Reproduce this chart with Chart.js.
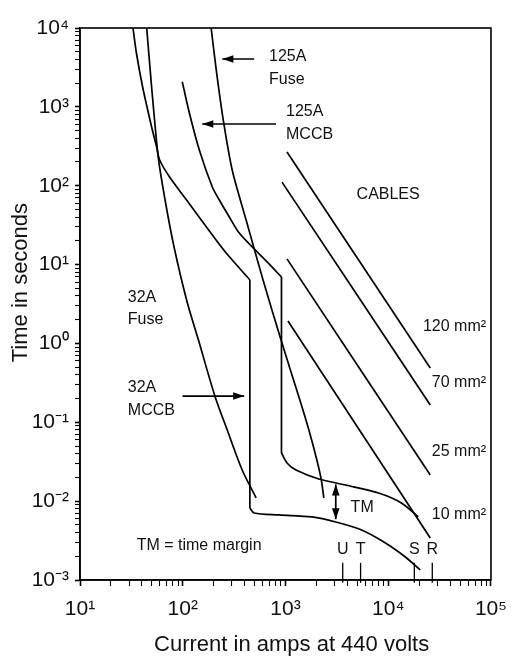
<!DOCTYPE html>
<html>
<head>
<meta charset="utf-8">
<script src="https://cdn.jsdelivr.net/npm/chart.js@4.4.1/dist/chart.umd.min.js"></script>
<style>
  html, body { margin: 0; padding: 0; background: #ffffff; }
  #wrap { width: 518px; height: 661px; position: relative; }
</style>
</head>
<body>
<div id="wrap"><canvas id="c" width="518" height="661"></canvas></div>
<script>
// ---------- data (current in A, time in s) ----------
const fuse32I  = [44.6, 48.2, 52.1, 58.2, 68.1, 82.3, 109, 142, 207, 271, 379, 518];
const fuse32T  = [10000, 2931, 912, 212, 60.4, 16.7, 3.56, 1.11, 0.209, 0.0798, 0.0248, 0.011];

const mccb32I  = [32.8, 35.4, 40.7, 49.8, 55.7, 59.6, 74.5, 109, 170, 265, 450, 450, 495, 865, 1807, 3086, 5508, 9400, 14680, 20520];
const mccb32T  = [10000, 4820, 1786, 556, 310, 212, 129, 65.9, 30.0, 14.0, 6.4, 0.0082, 0.00708, 0.00668, 0.0063, 0.00544, 0.00431, 0.00295, 0.00196, 0.00134];

const fuse125I = [189, 212, 248, 303, 414, 605, 904, 1380, 1690, 2020, 2233, 2361];
const fuse125T = [10000, 2931, 681, 158, 36.7, 6.37, 1.11, 0.192, 0.0798, 0.0332, 0.0185, 0.011];

const mccb125I = [98.9, 116, 145, 194, 227, 284, 355, 496, 662, 914, 914, 1035, 1265, 2111, 3851, 8054, 13440, 19630];
const mccb125T = [2084, 836, 284, 96.3, 65.9, 40.1, 25.1, 15.8, 10.8, 6.96, 0.0408, 0.0305, 0.0248, 0.0191, 0.016, 0.01268, 0.00948, 0.0063];

// cable adiabatic lines (start / end)
const cableNames = ['120 mm\u00B2', '70 mm\u00B2', '25 mm\u00B2', '10 mm\u00B2'];
const cableI = [[1034, 25650], [925, 25650], [1034, 25650], [1057, 25650]];
const cableT = [[268, 0.489], [111, 0.166], [11.8, 0.0215], [1.93, 0.00341]];

// prospective fault currents marked on the current axis
const markerNames = ['U', 'T', 'S', 'R'];
const markerI = [3606, 5383, 17950, 26840];

// axis tick labels (powers of ten)
const xTickLabels = ['10\u00B9', '10\u00B2', '10\u00B3', '10\u2074', '10\u2075'];
const yTickLabels = ['10\u207B\u00B3', '10\u207B\u00B2', '10\u207B\u00B9', '10\u2070', '10\u00B9', '10\u00B2', '10\u00B3', '10\u2074'];

// ---------- annotations (anchored in data units) ----------
const textNotes = [
  { text: '125A', i: 692, t: 4285 }, { text: 'Fuse', i: 692, t: 2191 },
  { text: '125A', i: 1012, t: 861 }, { text: 'MCCB', i: 1012, t: 440 },
  { text: 'CABLES', i: 4920, t: 76.3 },
  { text: '32A', i: 29.2, t: 3.77 }, { text: 'Fuse', i: 29.2, t: 1.98 },
  { text: '32A', i: 29.2, t: 0.272 }, { text: 'MCCB', i: 29.2, t: 0.139 },
  { text: cableNames[0], i: 89600, t: 1.62, align: 'right' },
  { text: cableNames[1], i: 89600, t: 0.315, align: 'right' },
  { text: cableNames[2], i: 89600, t: 0.042, align: 'right' },
  { text: cableNames[3], i: 89600, t: 0.00668, align: 'right' },
  { text: 'TM', i: 4305, t: 0.00819 },
  { text: 'TM = time margin', i: 35.6, t: 0.0027 }
];
const arrowNotes = [
  { from: [496, 4046], to: [243, 4046], heads: 1 },
  { from: [809, 606], to: [155, 606], heads: 1 },
  { from: [99.5, 0.215], to: [396, 0.215], heads: 1 },
  { from: [3086, 0.0163], to: [3086, 0.0059], heads: 2 }
];
const markerLabelT = 0.0024;

// ---------- build datasets ----------
const lineStyle = { borderColor: '#000', borderWidth: 1.7, pointRadius: 0, showLine: true, fill: false, tension: 0.3 };
function pts(I, T) { return I.map((v, k) => ({ x: v, y: T[k] })); }
// split a curve where it runs vertically (same current), so each smooth piece is curved on its own
function pieces(label, I, T) {
  const out = [];
  let start = 0;
  for (let k = 0; k < I.length - 1; k++) {
    if (I[k] === I[k + 1]) {
      if (k > start) out.push(pts(I.slice(start, k + 1), T.slice(start, k + 1)));
      out.push(pts(I.slice(k, k + 2), T.slice(k, k + 2)));
      start = k + 1;
    }
  }
  out.push(pts(I.slice(start), T.slice(start)));
  return out.map(d => Object.assign({ label, data: d }, lineStyle));
}
const datasets = [].concat(
  pieces('32A Fuse', fuse32I, fuse32T),
  pieces('32A MCCB', mccb32I, mccb32T),
  pieces('125A Fuse', fuse125I, fuse125T),
  pieces('125A MCCB', mccb125I, mccb125T)
);
cableNames.forEach((n, k) => {
  datasets.push(Object.assign({ label: n, data: pts(cableI[k], cableT[k]) }, lineStyle));
});
markerNames.forEach((n, k) => {
  datasets.push(Object.assign({ label: n, data: [{ x: markerI[k], y: 0.00165 }, { x: markerI[k], y: 0.00092 }], clip: false }, lineStyle, { borderWidth: 1.3 }));
});

function decadeTicks(e0, e1) {
  const t = [];
  for (let e = e0; e < e1; e++) for (let s = 1; s < 10; s++) t.push({ value: s * Math.pow(10, e) });
  t.push({ value: Math.pow(10, e1) });
  return t;
}

const FONT = '"Liberation Sans", Arial, Helvetica, sans-serif';

const annot = {
  id: 'annot',
  afterDatasetsDraw(chart) {
    const { ctx, chartArea: a } = chart;
    const x = chart.scales.x, y = chart.scales.y;
    ctx.save();
    ctx.strokeStyle = '#000';
    ctx.lineWidth = 1.6;
    ctx.strokeRect(a.left, a.top, a.right - a.left, a.bottom - a.top);

    ctx.fillStyle = '#111';
    ctx.font = '16px ' + FONT;
    ctx.textBaseline = 'middle';
    textNotes.forEach(n => {
      ctx.textAlign = n.align || 'left';
      ctx.fillText(n.text, x.getPixelForValue(n.i), y.getPixelForValue(n.t));
    });
    ctx.textAlign = 'center';
    markerNames.forEach((n, k) => {
      ctx.fillText(n, x.getPixelForValue(markerI[k]), y.getPixelForValue(markerLabelT));
    });

    ctx.lineWidth = 1.7;
    ctx.fillStyle = '#000';
    function head(px, py, ang) {
      const L = 11, W = 3.8;
      ctx.beginPath();
      ctx.moveTo(px, py);
      ctx.lineTo(px - L * Math.cos(ang) + W * Math.sin(ang), py - L * Math.sin(ang) - W * Math.cos(ang));
      ctx.lineTo(px - L * Math.cos(ang) - W * Math.sin(ang), py - L * Math.sin(ang) + W * Math.cos(ang));
      ctx.closePath();
      ctx.fill();
    }
    arrowNotes.forEach(ar => {
      const x0 = x.getPixelForValue(ar.from[0]), y0 = y.getPixelForValue(ar.from[1]);
      const x1 = x.getPixelForValue(ar.to[0]), y1 = y.getPixelForValue(ar.to[1]);
      ctx.beginPath(); ctx.moveTo(x0, y0); ctx.lineTo(x1, y1); ctx.stroke();
      const ang = Math.atan2(y1 - y0, x1 - x0);
      head(x1, y1, ang);
      if (ar.heads === 2) head(x0, y0, ang + Math.PI);
    });
    ctx.restore();
  }
};

new Chart(document.getElementById('c'), {
  type: 'scatter',
  data: { datasets },
  plugins: [annot],
  options: {
    responsive: false,
    animation: false,
    devicePixelRatio: 1,
    layout: { padding: { top: 28, right: 26, left: 0, bottom: 0 } },
    plugins: { legend: { display: false }, tooltip: { enabled: false } },
    scales: {
      x: {
        type: 'logarithmic', min: 10, max: 100000,
        afterBuildTicks: s => { s.ticks = decadeTicks(1, 5); },
        afterFit: s => { s.height = 81; },
        border: { display: true, color: '#000', width: 1.6 },
        grid: { drawOnChartArea: false, drawTicks: true, tickLength: 6, color: '#000',
                tickWidth: c => (c.index % 9 === 0 ? 1.6 : 1.1) },
        ticks: {
          autoSkip: false, maxRotation: 0, minRotation: 0, padding: 11, color: '#111',
          font: { family: FONT, size: 21 },
          callback: (v, idx) => (idx % 9 === 0 ? xTickLabels[idx / 9] : '')
        },
        title: { display: true, text: '  Current in amps at 440 volts', color: '#111',
                 font: { family: FONT, size: 22 }, padding: { top: 0, bottom: 3 } }
      },
      y: {
        type: 'logarithmic', min: 0.001, max: 10000,
        afterBuildTicks: s => { s.ticks = decadeTicks(-3, 4); },
        afterFit: s => { s.width = 80; },
        border: { display: true, color: '#000', width: 1.6 },
        grid: { drawOnChartArea: false, drawTicks: true, tickLength: 5, color: '#000',
                tickWidth: c => (c.index % 9 === 0 ? 1.6 : 1.1) },
        ticks: {
          autoSkip: false, padding: 6, color: '#111',
          font: { family: FONT, size: 21 },
          callback: (v, idx) => (idx % 9 === 0 ? yTickLabels[idx / 9] : '')
        },
        title: { display: true, text: '       Time in seconds', color: '#111',
                 font: { family: FONT, size: 22 }, padding: { top: 8, bottom: 0 } }
      }
    }
  }
});
</script>
</body>
</html>
